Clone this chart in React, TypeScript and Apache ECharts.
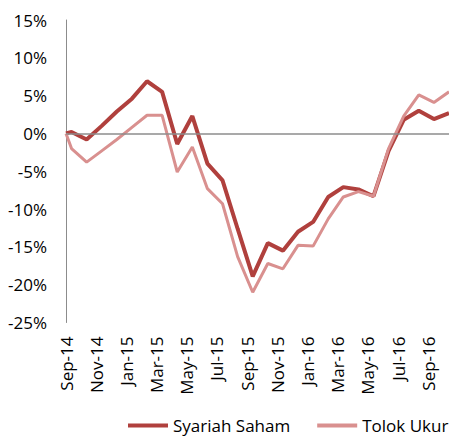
import React, { useEffect, useRef } from "react";
import * as echarts from "echarts";

const dates = [
  "2014-09-01", "2014-09-12", "2014-10-12", "2014-11-12", "2014-12-12",
  "2015-01-12", "2015-02-12", "2015-03-12", "2015-04-12", "2015-05-12",
  "2015-06-12", "2015-07-12", "2015-08-12", "2015-09-12", "2015-10-12",
  "2015-11-12", "2015-12-12", "2016-01-12", "2016-02-12", "2016-03-12",
  "2016-04-12", "2016-05-12", "2016-06-12", "2016-07-12", "2016-08-12",
  "2016-09-12", "2016-10-12",
];

const syariahSaham = [
  0, 0.2, -0.8, 1.0, 2.9, 4.6, 6.9, 5.5, -1.4, 2.3, -4.0, -6.2, -12.6, -18.9,
  -14.5, -15.5, -13.0, -11.7, -8.4, -7.1, -7.4, -8.3, -2.3, 1.8, 3.0, 1.9, 2.7,
];

const tolokUkur = [
  0, -2.0, -3.8, -2.3, -0.8, 0.8, 2.4, 2.4, -5.1, -1.8, -7.3, -9.3, -16.3, -21.0,
  -17.2, -17.9, -14.8, -14.9, -11.3, -8.4, -7.7, -8.3, -2.0, 2.3, 5.1, 4.1, 5.5,
];

const tickLabels = [
  "Sep-14", "Nov-14", "Jan-15", "Mar-15", "May-15", "Jul-15", "Sep-15",
  "Nov-15", "Jan-16", "Mar-16", "May-16", "Jul-16", "Sep-16",
];

const seriesNames = ["Syariah Saham", "Tolok Ukur"];

// month offset from 1 Sep 2014
const toOffset = (d: string) => {
  const [y, m, day] = d.split("-").map(Number);
  return (y - 2014) * 12 + (m - 9) + (day - 1) / 30;
};

const FONT = "'Open Sans', sans-serif";

export default function App() {
  const ref = useRef<HTMLDivElement>(null);
  useEffect(() => {
    if (!ref.current) return;
    const chart = echarts.init(ref.current, null, { renderer: "svg" });
    const xs = dates.map(toOffset);
    const maxX = xs[xs.length - 1];
    chart.setOption({
      animation: false,
      backgroundColor: "#ffffff",
      grid: {
        left: 66,
        top: 20,
        right: 0,
        bottom: 114.5,
        containLabel: false,
        outerBoundsMode: "none",
      },
      legend: {
        left: 128,
        top: 417,
        padding: 0,
        itemWidth: 40,
        itemHeight: 4,
        itemGap: 27,
        icon: "rect",
        data: seriesNames,
        textStyle: { fontSize: 17, fontFamily: FONT, color: "#000" },
      },
      xAxis: {
        type: "value",
        min: 0,
        max: maxX,
        interval: 2,
        axisLine: { show: false },
        axisTick: { show: false },
        splitLine: { show: false },
        axisLabel: {
          rotate: 90,
          margin: 14,
          showMaxLabel: false,
          fontSize: 17,
          fontFamily: FONT,
          color: "#000",
          formatter: (v: number) => {
            const i = Math.round(v / 2);
            return Math.abs(v - i * 2) < 1e-6 && tickLabels[i] ? tickLabels[i] : "";
          },
        },
      },
      yAxis: {
        type: "value",
        min: -25,
        max: 15,
        interval: 5,
        axisLine: { show: true, lineStyle: { color: "#8c8c8c", width: 1 } },
        axisTick: { show: false },
        splitLine: { show: false },
        axisLabel: {
          margin: 19,
          fontSize: 17,
          fontFamily: FONT,
          color: "#000",
          formatter: (v: number) => `${v}%`,
        },
      },
      series: [
        {
          name: seriesNames[0],
          type: "line",
          data: xs.map((x, i) => [x, syariahSaham[i]]),
          symbol: "none",
          color: "#b0403d",
          lineStyle: { width: 4, color: "#b0403d" },
          markLine: {
            silent: true,
            symbol: "none",
            label: { show: false },
            lineStyle: { color: "#8c8c8c", width: 1.5, type: "solid" },
            data: [{ yAxis: 0 }],
          },
          z: 2,
        },
        {
          name: seriesNames[1],
          type: "line",
          data: xs.map((x, i) => [x, tolokUkur[i]]),
          symbol: "none",
          color: "#d9908f",
          lineStyle: { width: 3, color: "#d9908f" },
          z: 3,
        },
      ],
    });
    return () => chart.dispose();
  }, []);
  return (
    <div
      ref={ref}
      style={{ position: "fixed", left: 0, top: 0, width: 449, height: 437, background: "#fff" }}
    />
  );
}
